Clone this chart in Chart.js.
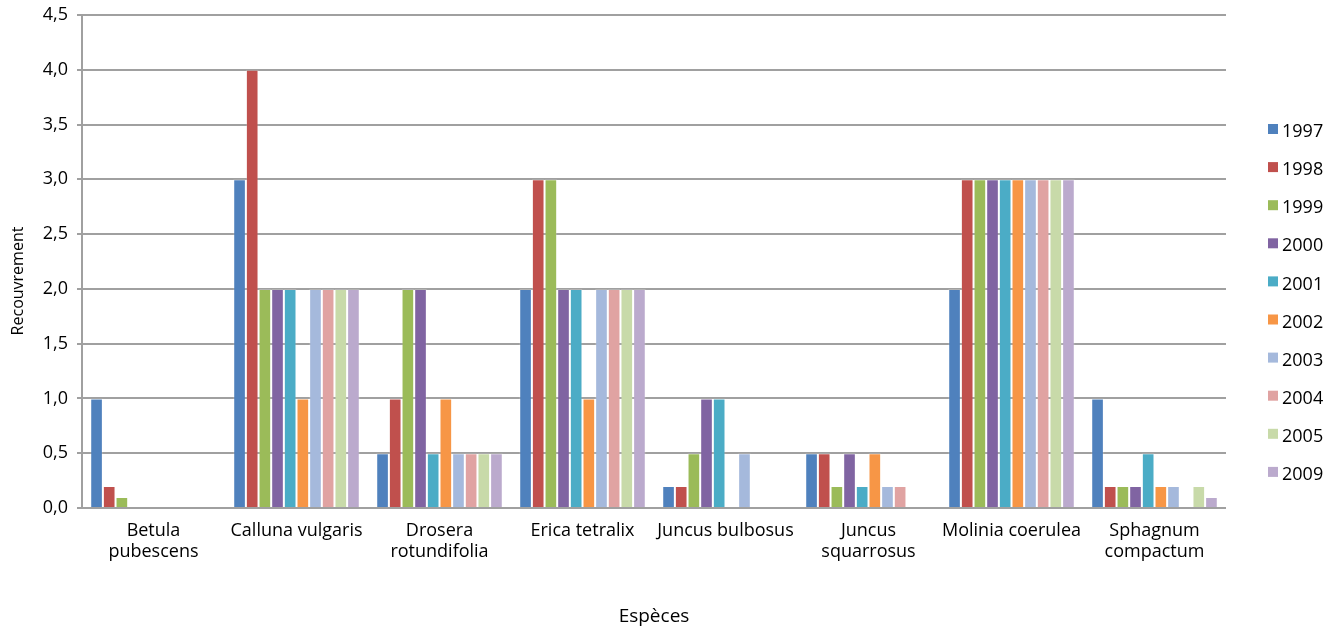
<!DOCTYPE html>
<html>
<head>
<meta charset="utf-8">
<script src="https://cdn.jsdelivr.net/npm/chart.js@4/dist/chart.umd.min.js"></script>
<style>
  html, body { margin: 0; padding: 0; background: #fff; }
  #wrap { width: 1338px; height: 628px; position: relative; }
</style>
</head>
<body>
<div id="wrap"><canvas id="c"></canvas></div>
<script>
// Species surveyed (multi-line labels as printed under the axis)
const species = [
  ['Betula', 'pubescens'],
  'Calluna vulgaris',
  ['Drosera', 'rotundifolia'],
  'Erica tetralix',
  'Juncus bulbosus',
  ['Juncus', 'squarrosus'],
  'Molinia coerulea',
  ['Sphagnum', 'compactum']
];

const years = ['1997', '1998', '1999', '2000', '2001', '2002', '2003', '2004', '2005', '2009'];

// Cover per species, one array per survey year
const cover1997 = [1.0, 3, 0.5, 2, 0.2, 0.5, 2, 1.0];
const cover1998 = [0.2, 4, 1.0, 3, 0.2, 0.5, 3, 0.2];
const cover1999 = [0.1, 2, 2.0, 3, 0.5, 0.2, 3, 0.2];
const cover2000 = [0,   2, 2.0, 2, 1.0, 0.5, 3, 0.2];
const cover2001 = [0,   2, 0.5, 2, 1.0, 0.2, 3, 0.5];
const cover2002 = [0,   1, 1.0, 1, 0,   0.5, 3, 0.2];
const cover2003 = [0,   2, 0.5, 2, 0.5, 0.2, 3, 0.2];
const cover2004 = [0,   2, 0.5, 2, 0,   0.2, 3, 0];
const cover2005 = [0,   2, 0.5, 2, 0,   0,   3, 0.2];
const cover2009 = [0,   2, 0.5, 2, 0,   0,   3, 0.1];

const seriesValues = [cover1997, cover1998, cover1999, cover2000, cover2001,
                      cover2002, cover2003, cover2004, cover2005, cover2009];

const yearColors = ['#4F81BD', '#C0504D', '#9BBB59', '#8064A2', '#4BACC6',
                    '#F79646', '#A5B9DC', '#E0A3A2', '#C8DAA9', '#BBAACD'];

const yTickLabels = ['0,0', '0,5', '1,0', '1,5', '2,0', '2,5', '3,0', '3,5', '4,0', '4,5'];

const yTitle = 'Recouvrement';

const FONT = "'Open Sans', 'Noto Sans', sans-serif";
const GRID = '#A0A0A0';

// Vertical legend on the right plus the rotated value-axis title
const sideText = {
  id: 'sideText',
  afterDraw(chart) {
    const ctx = chart.ctx;
    ctx.save();
    ctx.font = '18px ' + FONT;
    ctx.textBaseline = 'middle';
    ctx.textAlign = 'left';
    chart.data.datasets.forEach((ds, i) => {
      const y = 129 + i * 38.1;
      ctx.fillStyle = ds.backgroundColor;
      ctx.fillRect(1268, y - 5, 10, 10);
      ctx.fillStyle = '#000';
      ctx.fillText(ds.label, 1282, y + 3);
    });
    ctx.restore();

    ctx.save();
    ctx.translate(18, 281);
    ctx.rotate(-Math.PI / 2);
    ctx.font = '16px ' + FONT;
    ctx.fillStyle = '#000';
    ctx.textAlign = 'center';
    ctx.textBaseline = 'middle';
    ctx.fillText(yTitle, 0, 0);
    ctx.restore();
  }
};

new Chart(document.getElementById('c'), {
  type: 'bar',
  data: {
    labels: species,
    datasets: years.map((y, i) => ({
      label: y,
      data: seriesValues[i],
      backgroundColor: yearColors[i],
      borderColor: 'rgba(255,255,255,0.2)',
      borderWidth: 1,
      categoryPercentage: 0.885,
      barPercentage: 1.0
    }))
  },
  options: {
    responsive: true,
    maintainAspectRatio: false,
    animation: false,
    layout: { padding: { top: 15, right: 112, bottom: 0, left: 0 } },
    plugins: {
      legend: { display: false },
      tooltip: { enabled: false }
    },
    scales: {
      x: {
        grid: { display: false, drawTicks: false },
        border: { display: false },
        ticks: {
          color: '#000',
          font: { family: FONT, size: 18, lineHeight: 1.17 },
          padding: 12,
          maxRotation: 0,
          autoSkip: false
        },
        title: {
          display: true,
          text: 'Espèces',
          color: '#000',
          font: { family: FONT, size: 19 },
          padding: { top: 0, bottom: 0 }
        },
        afterFit(scale) {
          scale.height = 120;
          scale.paddingLeft = 0;
          scale.paddingRight = 0;
        }
      },
      y: {
        min: 0,
        max: 4.5,
        grid: { color: GRID, lineWidth: 2, tickLength: 5, drawTicks: true },
        border: { display: true, color: GRID, width: 2 },
        ticks: {
          stepSize: 0.5,
          color: '#000',
          font: { family: FONT, size: 18 },
          padding: 9,
          callback: (v, i) => yTickLabels[i]
        },
        afterFit(scale) {
          scale.width = 82;
          scale.paddingTop = 0;
          scale.paddingBottom = 0;
        }
      }
    }
  },
  plugins: [sideText]
});
</script>
</body>
</html>
